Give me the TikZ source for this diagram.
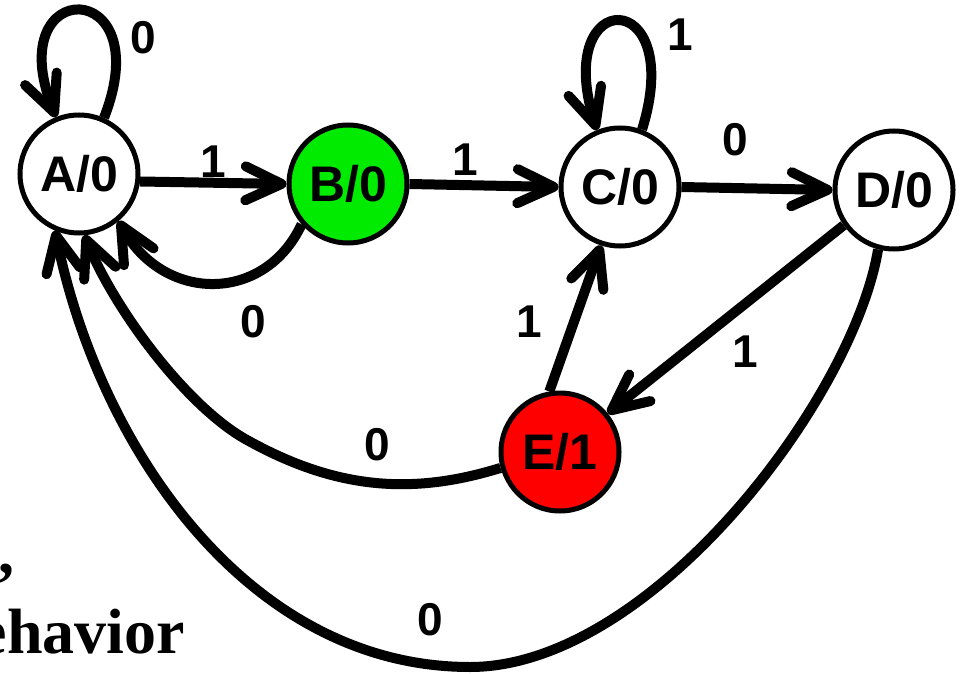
\documentclass[tikz,border=0pt]{standalone}
\usepackage{fontspec}
\setmainfont{Liberation Sans}
\newfontfamily\serifbf{Liberation Serif}
\usetikzlibrary{arrows.meta}
\definecolor{stgreen}{RGB}{0,235,0}
\definecolor{stred}{RGB}{255,0,0}
\begin{document}
\begin{tikzpicture}[x=1pt,y=-1pt,
  state/.style={circle,draw,line width=5pt,minimum size=118pt,inner sep=0pt,fill=white,
    font=\fontsize{50}{50}\selectfont\bfseries},
  edge/.style={line width=10pt,-{Straight Barb[length=36pt,width=34pt,round]}},
  lbl/.style={font=\fontsize{46}{46}\selectfont\bfseries,inner sep=0pt},
  btxt/.style={font=\serifbf\bfseries\fontsize{64}{64}\selectfont,inner sep=0pt}]
\useasboundingbox (0,0) rectangle (961,674);
\clip (0,0) rectangle (961,674);

\node[state] (A) at (79,174) {A/0};
\node[state,fill=stgreen] (B) at (348,184) {B/0};
\node[state] (C) at (620,187) {C/0};
\node[state] (D) at (894,190) {D/0};
\node[state,fill=stred] (E) at (560,452) {E/1};

\draw[edge] (A.-7) -- (B.west);
\draw[edge] (B.east) -- (C.west);
\draw[edge] (C.east) -- (D.west);
\draw[edge] (D.215) -- (E.39);
\draw[edge] (E.100) -- (C.252);
\draw[edge] (B.221) .. controls (265,303) and (165,303) .. (A.-50);
\draw[edge] (E.195) .. controls (413,495) and (337,490) .. (247,440)
  .. controls (187,407) and (115,310) .. (A.275);
\draw[edge] (D.255) .. controls (853,400) and (650,667) .. (470,667)
  .. controls (250,667) and (100,450) .. (A.247);
\draw[edge] (A.66) .. controls (160,-25) and (0,-25) .. (A.112);
\draw[edge] (C.69) .. controls (687,-15) and (552,-15) .. (C.112);

\node[lbl] (l1) at (143,38) {0};
\node[lbl] (l2) at (213,162) {1};
\node[lbl] (l3) at (465,160) {1};
\node[lbl] (l4) at (680,35) {1};
\node[lbl] (l5) at (735,140) {0};
\node[lbl] (l6) at (253,322) {0};
\node[lbl] (l7) at (529,322) {1};
\node[lbl] (l8) at (745,352) {1};
\node[lbl] (l9) at (377,445) {0};
\node[lbl] (l10) at (430,620) {0};

\node[btxt,anchor=base west] (t1) at (-2,573) {,};
\node[btxt,anchor=base east] (t2) at (185,653) {ehavior};
\end{tikzpicture}
\end{document}
